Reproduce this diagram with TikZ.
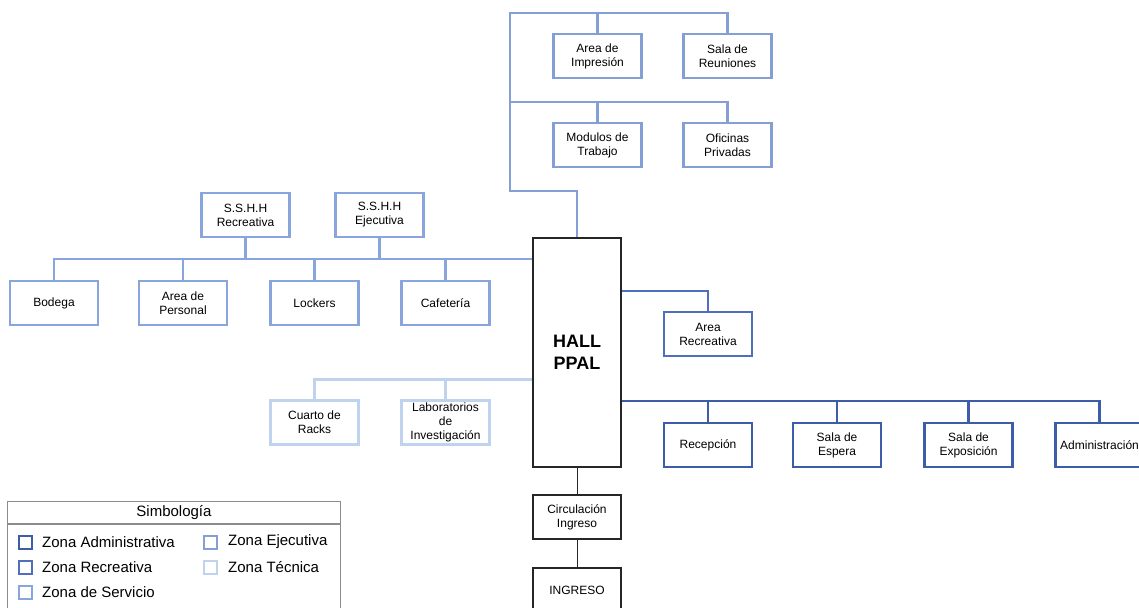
\documentclass[tikz,border=0pt]{standalone}
\usepackage{fontspec}
\setmainfont{Liberation Sans}
\definecolor{cAdm}{HTML}{3D5DA8}
\definecolor{cRec}{HTML}{4F6FBD}
\definecolor{cSrv}{HTML}{88A5DD}
\definecolor{cEje}{HTML}{849FD6}
\definecolor{cTec}{HTML}{C0D3EE}
\definecolor{cLeg}{HTML}{8C8C8C}
\begin{document}
\begin{tikzpicture}[x=1pt,y=-1pt,
  room/.style={draw, line width=2.2pt, fill=white, minimum width=88pt, minimum height=44pt,
    inner sep=0pt, align=center, font=\fontsize{12}{14}\selectfont},
  adm/.style={room, draw=cAdm}, rec/.style={room, draw=cRec}, srv/.style={room, draw=cSrv},
  eje/.style={room, draw=cEje}, tec/.style={room, draw=cTec},
  blk/.style={room, draw=black!85},
  admline/.style={draw=cAdm, line width=2.2pt},
  recline/.style={draw=cRec, line width=2.2pt},
  srvline/.style={draw=cSrv, line width=2.2pt},
  ejeline/.style={draw=cEje, line width=2.2pt},
  tecline/.style={draw=cTec, line width=2.2pt},
  blkline/.style={draw=black!85, line width=1pt},
  legsq/.style={draw, line width=2pt, minimum width=13pt, minimum height=13pt, inner sep=0pt},
  legtxt/.style={anchor=west, font=\fontsize{15}{18}\selectfont, inner sep=0pt}
]
\useasboundingbox[fill=white] (0,0) rectangle (1139,607);

% top group (ejecutiva)
\node[eje] (imp)  at (597.5,56)  {Area de\\Impresión};
\node[eje] (reun) at (727.5,56)  {Sala de\\Reuniones};
\node[eje] (mod)  at (597.5,145) {Modulos de\\Trabajo};
\node[eje] (priv) at (727.5,145) {Oficinas\\Privadas};

% hall and entrance
\node[blk, minimum height=229pt, font=\fontsize{18}{22.5}\selectfont\bfseries] (hall) at (577,352.5)
  {HALL\\PPAL};
\node[blk] (circ) at (577,517) {Circulación\\Ingreso};
\node[blk] (ing)  at (577,590) {INGRESO};

% left group (servicio)
\node[srv] (sshR) at (245.5,215) {S.S.H.H\\Recreativa};
\node[srv] (sshE) at (379.5,215) {S.S.H.H\\Ejecutiva};
\node[srv] (bod)  at (54,303)    {Bodega};
\node[srv] (per)  at (183,303)   {Area de\\Personal};
\node[srv] (lock) at (314.5,303) {Lockers};
\node[srv] (caf)  at (445.5,303) {Cafetería};

% technical
\node[tec] (racks) at (314.5,422.5) {Cuarto de\\Racks};
\node[tec] (lab)   at (445.5,422.5) {Laboratorios\\de\\Investigación};

% recreational
\node[rec] (arec) at (708,334) {Area\\Recreativa};

% administrative
\node[adm] (recp) at (708,445)  {Recepción};
\node[adm] (esp)  at (837,445)  {Sala de\\Espera};
\node[adm] (expo) at (968.5,445) {Sala de\\Exposición};
\node[adm] (admi) at (1099.5,445) {Administración};

% bus coordinates
\coordinate (tTop) at (510,13);
\coordinate (tMid) at (510,102);
\coordinate (tBot) at (510,191);
\coordinate (lBus) at (0,259);
\coordinate (tBus) at (0,379.5);
\coordinate (rBus) at (0,291);
\coordinate (aBus) at (0,401);

% top connectors
\draw[ejeline] (hall.north) |- (tBot) -- (tTop) -| (reun.north);
\draw[ejeline] (imp.north) -- (imp.north |- tTop);
\draw[ejeline] (tMid) -| (priv.north);
\draw[ejeline] (mod.north) -- (mod.north |- tMid);

% left connectors
\draw[srvline] (bod.north) |- (hall.west |- lBus);
\draw[srvline] (per.north) -- (per.north |- lBus);
\draw[srvline] (lock.north) -- (lock.north |- lBus);
\draw[srvline] (caf.north) -- (caf.north |- lBus);
\draw[srvline] (sshR.south) -- (sshR.south |- lBus);
\draw[srvline] (sshE.south) -- (sshE.south |- lBus);

% technical connectors
\draw[tecline] (racks.north) |- (hall.west |- tBus);
\draw[tecline] (lab.north) -- (lab.north |- tBus);

% recreational connector
\draw[recline] (hall.east |- rBus) -| (arec.north);

% administrative connectors
\draw[admline] (hall.east |- aBus) -| (admi.north);
\draw[admline] (recp.north) -- (recp.north |- aBus);
\draw[admline] (esp.north) -- (esp.north |- aBus);
\draw[admline] (expo.north) -- (expo.north |- aBus);

% entrance connectors
\draw[blkline] (hall.south) -- (circ.north);
\draw[blkline] (circ.south) -- (ing.north);

% legend
\node[draw=cLeg, line width=0.9pt, minimum width=333pt, minimum height=22pt, inner sep=0pt,
  anchor=north west, font=\fontsize{15}{18}\selectfont] (legt) at (7,501) {Simbología};
\node[draw=cLeg, line width=0.9pt, minimum width=333pt, minimum height=95pt, inner sep=0pt,
  anchor=north west] (legb) at (legt.south west) {};
\node[legsq, draw=cAdm] (sqA) at (25,542) {};
\node[legsq, draw=cRec] (sqR) at (25,567) {};
\node[legsq, draw=cSrv] (sqS) at (25,592) {};
\node[legsq, draw=cEje] (sqE) at (210,542) {};
\node[legsq, draw=cTec] (sqT) at (210,567) {};
\node[legtxt] (tA) at (42,542) {Zona Administrativa};
\node[legtxt] (tR) at (42,567) {Zona Recreativa};
\node[legtxt] (tS) at (42,592) {Zona de Servicio};
\node[legtxt] (tE) at (228,542) {Zona Ejecutiva};
\node[legtxt] (tT) at (228,567) {Zona Técnica};
\end{tikzpicture}
\end{document}
